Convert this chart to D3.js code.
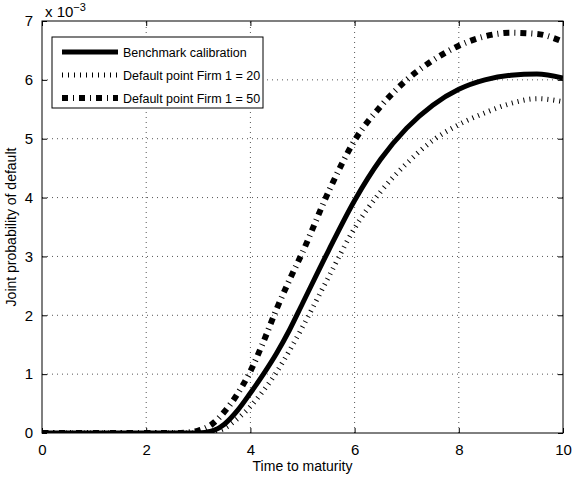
<!DOCTYPE html>
<html>
<head>
<meta charset="utf-8">
<script src="https://cdn.jsdelivr.net/npm/d3@7"></script>
<style>
  body { margin: 0; background: #fff; }
  text { font-family: "Liberation Sans", Arial, sans-serif; }
</style>
</head>
<body>
<div id="chart"></div>
<script>
// time grid and series (values in units of 1e-3)
const time = [0, 1, 2, 2.5, 2.8, 3, 3.25, 3.5, 3.75, 4, 4.25, 4.5, 4.75, 5, 5.5, 6, 6.5, 7, 7.5, 8, 8.5, 9, 9.5, 10];
const benchmark = [0, 0, 0, 0, 0, 0, 0.03, 0.15, 0.38, 0.68, 1.0, 1.35, 1.75, 2.2, 3.1, 3.95, 4.65, 5.18, 5.57, 5.84, 6.0, 6.08, 6.1, 6.03];
const firm20 = [0, 0, 0, 0, 0, 0, 0.01, 0.08, 0.24, 0.45, 0.72, 1.03, 1.4, 1.8, 2.65, 3.48, 4.1, 4.58, 4.97, 5.24, 5.44, 5.6, 5.68, 5.63];
const firm50 = [0, 0, 0, 0, 0.01, 0.04, 0.14, 0.36, 0.66, 1.05, 1.55, 2.1, 2.6, 3.07, 4.1, 4.97, 5.55, 6.0, 6.33, 6.58, 6.74, 6.8, 6.78, 6.65];
const xTicks = [0, 2, 4, 6, 8, 10];
const yTicks = [0, 1, 2, 3, 4, 5, 6, 7];
const legendLabels = ["Benchmark calibration", "Default point Firm 1 = 20", "Default point Firm 1 = 50"];

let width = 573,
    height = 477,
    margin = ({ top: 21, right: 10, bottom: 44, left: 42 });

const svg = d3.select("#chart")
    .append("svg")
    .attr("width", width)
    .attr("height", height);

let x = d3.scaleLinear()
    .domain([0, 10])
    .range([margin.left, width - margin.right]);

let y = d3.scaleLinear()
    .domain([0, 7])
    .range([height - margin.bottom, margin.top]);

svg.append("clipPath").attr("id", "clip")
    .append("rect")
    .attr("x", x(0)).attr("y", y(7))
    .attr("width", x(10) - x(0)).attr("height", y(0) - y(7));

// grid lines
svg.append("g")
    .selectAll("line")
    .data(xTicks.slice(1, -1))
    .join("line")
    .attr("x1", d => x(d)).attr("x2", d => x(d))
    .attr("y1", y(0)).attr("y2", y(7))
    .attr("stroke", "#555").attr("stroke-width", 1)
    .attr("stroke-dasharray", "1,4");

svg.append("g")
    .selectAll("line")
    .data(yTicks.slice(1, -1))
    .join("line")
    .attr("y1", d => y(d)).attr("y2", d => y(d))
    .attr("x1", x(0)).attr("x2", x(10))
    .attr("stroke", "#555").attr("stroke-width", 1)
    .attr("stroke-dasharray", "1,4");

// axes (ticks inside, box on)
const tick = 5;
svg.append("g")
    .attr("transform", `translate(0,${y(0)})`)
    .call(d3.axisBottom(x).tickValues(xTicks).tickSize(-tick).tickPadding(11).tickFormat(d3.format("d")))
    .call(g => g.select(".domain").remove());
svg.append("g")
    .attr("transform", `translate(0,${y(7)})`)
    .call(d3.axisTop(x).tickValues(xTicks).tickSize(-tick).tickFormat(""))
    .call(g => g.select(".domain").remove());
svg.append("g")
    .attr("transform", `translate(${x(0)},0)`)
    .call(d3.axisLeft(y).tickValues(yTicks).tickSize(-tick).tickPadding(9).tickFormat(d3.format("d")))
    .call(g => g.select(".domain").remove());
svg.append("g")
    .attr("transform", `translate(${x(10)},0)`)
    .call(d3.axisRight(y).tickValues(yTicks).tickSize(-tick).tickFormat(""))
    .call(g => g.select(".domain").remove());

svg.selectAll(".tick line").attr("stroke", "#000");
svg.selectAll(".tick text").attr("font-size", 15).attr("fill", "#000")
    .attr("font-family", "Liberation Sans, Arial, sans-serif");

// curves
const line = d3.line()
    .x((d, i) => x(time[i]))
    .y(d => y(d))
    .curve(d3.curveMonotoneX);

const plot = svg.append("g").attr("clip-path", "url(#clip)");
const styles = [
    { data: benchmark, width: 5, dash: null },
    { data: firm20, width: 5, dash: "1,5" },
    { data: firm50, width: 6, dash: "6,5,1,5" }
];

styles.slice().reverse().forEach(s => {
    plot.append("path")
        .attr("d", line(s.data))
        .attr("fill", "none")
        .attr("stroke", "#000")
        .attr("stroke-width", s.width)
        .attr("stroke-dasharray", s.dash);
});

// frame
svg.append("rect")
    .attr("x", x(0)).attr("y", y(7))
    .attr("width", x(10) - x(0)).attr("height", y(0) - y(7))
    .attr("fill", "none").attr("stroke", "#000").attr("stroke-width", 1);

// exponent label
const expo = svg.append("text")
    .attr("x", x(0) + 3).attr("y", 17)
    .attr("font-size", 15);
expo.append("tspan").text("x 10");
expo.append("tspan").attr("dy", -6).attr("font-size", 11).text("\u22123");

// axis labels
svg.append("text")
    .attr("x", (x(0) + x(10)) / 2).attr("y", 471)
    .attr("text-anchor", "middle").attr("font-size", 14)
    .text("Time to maturity");
svg.append("text")
    .attr("transform", `translate(16,${(y(0) + y(7)) / 2}) rotate(-90)`)
    .attr("text-anchor", "middle").attr("font-size", 14)
    .text("Joint probability of default");

// legend
const lg = svg.append("g").attr("transform", `translate(52,37)`);
lg.append("rect")
    .attr("width", 211).attr("height", 71)
    .attr("fill", "#fff").attr("stroke", "#000").attr("stroke-width", 1);
legendLabels.forEach((label, i) => {
    const s = styles[i];
    const ly = 15 + i * 23;
    lg.append("line")
        .attr("x1", 10).attr("x2", 66).attr("y1", ly).attr("y2", ly)
        .attr("stroke", "#000").attr("stroke-width", s.width)
        .attr("stroke-dasharray", s.dash);
    lg.append("text")
        .attr("x", 71).attr("y", ly + 5)
        .attr("font-size", 12.5)
        .text(label);
});
</script>
</body>
</html>
